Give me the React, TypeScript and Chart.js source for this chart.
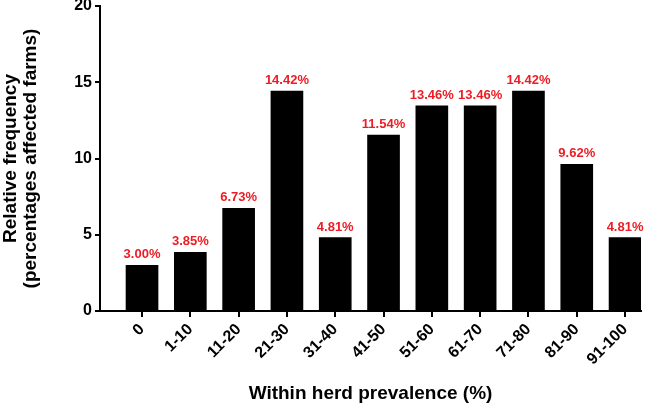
import React, { useEffect, useRef } from "react";
import { Chart, registerables } from "chart.js";

Chart.register(...registerables);

const categories = ["0", "1-10", "11-20", "21-30", "31-40", "41-50", "51-60", "61-70", "71-80", "81-90", "91-100"];
const frequencies = [3.0, 3.85, 6.73, 14.42, 4.81, 11.54, 13.46, 13.46, 14.42, 9.62, 4.81];
const yTicks = [0, 5, 10, 15, 20];

const FONT = "Arial, 'Liberation Sans', sans-serif";
const RED = "rgb(237,28,36)";

const labelPlugin = {
  id: "barLabels",
  afterDatasetsDraw(chart: any) {
    const ctx = chart.ctx;
    const meta = chart.getDatasetMeta(0);
    ctx.save();
    ctx.font = `bold 13px ${FONT}`;
    ctx.fillStyle = RED;
    ctx.textAlign = "center";
    ctx.textBaseline = "bottom";
    meta.data.forEach((el: any, i: number) => {
      ctx.fillText(frequencies[i].toFixed(2) + "%", el.x, el.y - 4);
    });
    ctx.restore();
  },
};

export default function App() {
  const ref = useRef<HTMLCanvasElement>(null);
  useEffect(() => {
    if (!ref.current) return;
    const chart = new Chart(ref.current, {
      type: "bar",
      data: {
        datasets: [
          {
            data: frequencies.map((v, i) => ({ x: i, y: v })),
            backgroundColor: "#000000",
            borderWidth: 0,
            barThickness: 32,
          },
        ],
      },
      options: {
        responsive: false,
        animation: false,
        devicePixelRatio: 1,
        layout: { padding: { top: 6, right: 25, left: 0, bottom: 0 } },
        plugins: { legend: { display: false }, tooltip: { enabled: false } },
        scales: {
          x: {
            type: "linear",
            offset: false,
            min: -0.87,
            max: 10.33,
            afterBuildTicks: (scale: any) => {
              scale.ticks = categories.map((_, i) => ({ value: i }));
            },
            afterFit: (scale: any) => {
              scale.height = 100;
              scale.paddingLeft = 0;
              scale.paddingRight = 0;
            },
            border: { display: true, color: "#000", width: 2 },
            grid: { display: true, offset: false, drawOnChartArea: false, drawTicks: true, tickLength: 6, color: "#000", lineWidth: 2 },
            ticks: {
              autoSkip: false,
              maxRotation: 45,
              minRotation: 45,
              padding: 3,
              color: "#000",
              font: { family: FONT, size: 16, weight: "bold" },
              callback: (v: any) => categories[v as number] ?? "",
            },
            title: {
              display: true,
              text: "Within herd prevalence (%)",
              color: "#000",
              font: { family: FONT, size: 19, weight: "bold" },
              padding: { top: 4, bottom: 6 },
            },
          },
          y: {
            min: 0,
            max: 20,
            afterBuildTicks: (scale: any) => {
              scale.ticks = yTicks.map((v) => ({ value: v }));
            },
            afterFit: (scale: any) => {
              scale.width = 100;
              scale.paddingTop = 0;
              scale.paddingBottom = 0;
            },
            border: { display: true, color: "#000", width: 2 },
            grid: { display: true, drawOnChartArea: false, drawTicks: true, tickLength: 5, color: "#000", lineWidth: 2 },
            ticks: {
              padding: 3,
              color: "#000",
              font: { family: FONT, size: 16, weight: "bold" },
            },
            title: {
              display: true,
              text: ["Relative frequency", "(percentages affected farms)"],
              color: "#000",
              font: { family: FONT, size: 19, weight: "bold", lineHeight: 1.05 },
              padding: { top: 1, bottom: 0 },
            },
          },
        },
      },
      plugins: [labelPlugin],
    });
    return () => chart.destroy();
  }, []);
  return (
    <div style={{ position: "fixed", left: 0, top: 0, width: 666, height: 411, background: "#fff" }}>
      <canvas ref={ref} width={666} height={411} />
    </div>
  );
}
